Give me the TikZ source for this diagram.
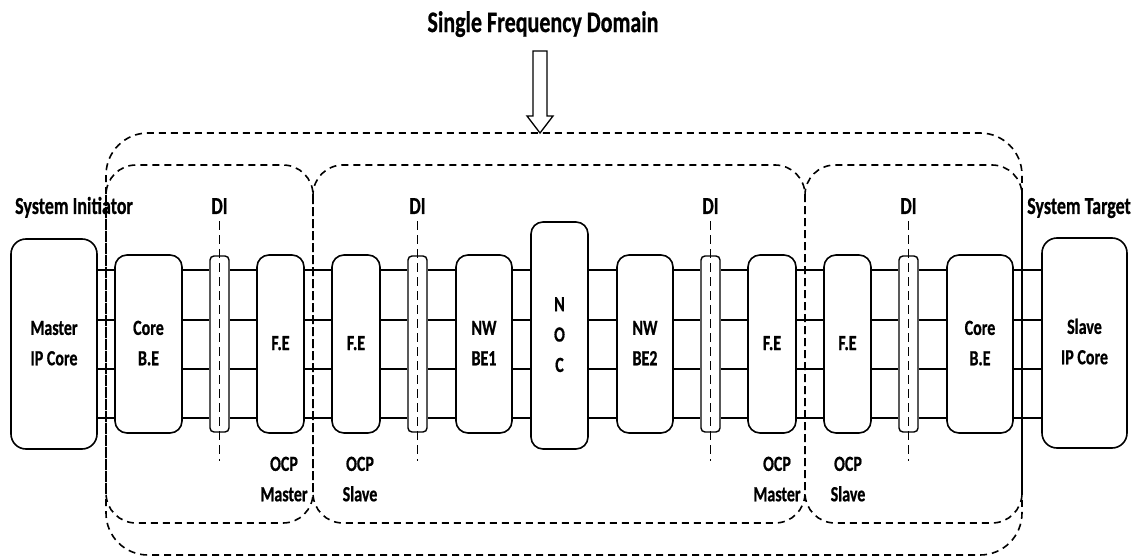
\documentclass[tikz,border=0pt]{standalone}
\usepackage{fontspec}
\usepackage{graphicx}
\setmainfont{Carlito}[BoldFeatures={FakeBold=0.8}]
\newcommand{\stx}[1]{\scalebox{1}[1.35]{\begin{tabular}{@{}c@{}}#1\end{tabular}}}
\tikzset{
  blk/.style={draw, line width=1.6pt, rounded corners=12pt, fill=white, inner sep=0pt,
    font=\bfseries\fontsize{16}{22.5}\selectfont},
  dibar/.style={draw, line width=1.4pt, rounded corners=4pt, fill=white, inner sep=0pt, minimum width=19pt},
  wire/.style={line width=1.6pt},
  dom/.style={dash pattern=on 7pt off 5pt, line width=1.6pt},
  dil/.style={dash pattern=on 9pt off 5pt, line width=1.3pt},
  lbl/.style={font=\bfseries\fontsize{16}{22.5}\selectfont, inner sep=0pt},
  biglbl/.style={font=\bfseries\fontsize{18}{22}\selectfont, inner sep=0pt},
}
\begin{document}
\begin{tikzpicture}[x=1pt,y=-1pt]
\useasboundingbox (0,0) rectangle (1138,559);
% domain boxes
\draw[dom, rounded corners=42pt] (106,133) rectangle (1022,555);
\draw[dom, rounded corners=30pt] (106,165) rectangle (313,523);
\draw[dom, rounded corners=30pt] (313,165) rectangle (805,523);
\draw[dom, rounded corners=30pt] (805,165) rectangle (1022,523);
% title and hollow arrow
\node[font=\bfseries\fontsize{22}{26}\selectfont, inner sep=0pt] (title) at (543,25) {\stx{Single Frequency Domain}};
\draw[line width=1.3pt, line join=miter, fill=white] (533,51) -- (547,51) -- (547,116) -- (553,116) -- (540,133)
  -- (527,116) -- (533,116) -- cycle;
% row coordinates
\coordinate (r1) at (0,270);
\coordinate (r2) at (0,320);
\coordinate (r3) at (0,369);
\coordinate (r4) at (0,418);
% blocks
\node[blk, rounded corners=15pt, minimum width=86pt, minimum height=210pt] (mip) at (54,344) {\stx{Master\\IP Core}};
\node[blk, minimum width=67pt, minimum height=178pt] (cbe1) at (148.5,344) {\stx{Core\\B.E}};
\node[dibar, minimum height=176pt] (di1) at (219.5,344) {};
\node[blk, minimum width=47pt, minimum height=178pt] (fe1) at (280.5,344) {\stx{F.E}};
\node[blk, minimum width=48pt, minimum height=178pt] (fe2) at (356,344) {\stx{F.E}};
\node[dibar, minimum height=176pt] (di2) at (417.5,344) {};
\node[blk, minimum width=56pt, minimum height=178pt] (nw1) at (484,344) {\stx{NW\\BE1}};
\node[blk, minimum width=57pt, minimum height=227pt] (noc) at (559.5,335.5) {\stx{N\\O\\C}};
\node[blk, minimum width=56pt, minimum height=178pt] (nw2) at (645,344) {\stx{NW\\BE2}};
\node[dibar, minimum height=176pt] (di3) at (710.5,344) {};
\node[blk, minimum width=48pt, minimum height=178pt] (fe3) at (772,344) {\stx{F.E}};
\node[blk, minimum width=47pt, minimum height=178pt] (fe4) at (847.5,344) {\stx{F.E}};
\node[dibar, minimum height=176pt] (di4) at (908.5,344) {};
\node[blk, minimum width=66pt, minimum height=178pt] (cbe2) at (980,344) {\stx{Core\\B.E}};
\node[blk, rounded corners=15pt, minimum width=85pt, minimum height=210pt] (sip) at (1084.5,343) {\stx{Slave\\IP Core}};
% wires
\foreach \a/\b in {mip/cbe1, cbe1/di1, di1/fe1, fe1/fe2, fe2/di2, di2/nw1, nw1/noc, noc/nw2, nw2/di3, di3/fe3, fe3/fe4, fe4/di4, di4/cbe2, cbe2/sip}{
  \foreach \r in {r1,r2,r3,r4}{
    \draw[wire] (\a.east |- \r) -- (\b.west |- \r);
  }
}
% DI dashed lines and labels
\foreach \d in {di1,di2,di3,di4}{
  \draw[dil] ([yshift=34pt]\d.north) -- ([yshift=-28pt]\d.south);
}
\node[biglbl] (dl1) at (219.5,208) {\stx{DI}};
\node[biglbl] (dl2) at (417.5,208) {\stx{DI}};
\node[biglbl] (dl3) at (710.5,208) {\stx{DI}};
\node[biglbl] (dl4) at (908.5,208) {\stx{DI}};
% system labels
\node[biglbl] (sysi) at (74,208) {\stx{System Initiator}};
\node[biglbl] (syst) at (1079,208) {\stx{System Target}};
% OCP labels
\node[lbl] (o1) at (284,480) {\stx{OCP\\Master}};
\node[lbl] (o2) at (360,480) {\stx{OCP\\Slave}};
\node[lbl] (o3) at (777,480) {\stx{OCP\\Master}};
\node[lbl] (o4) at (848,480) {\stx{OCP\\Slave}};
\end{tikzpicture}
\end{document}
